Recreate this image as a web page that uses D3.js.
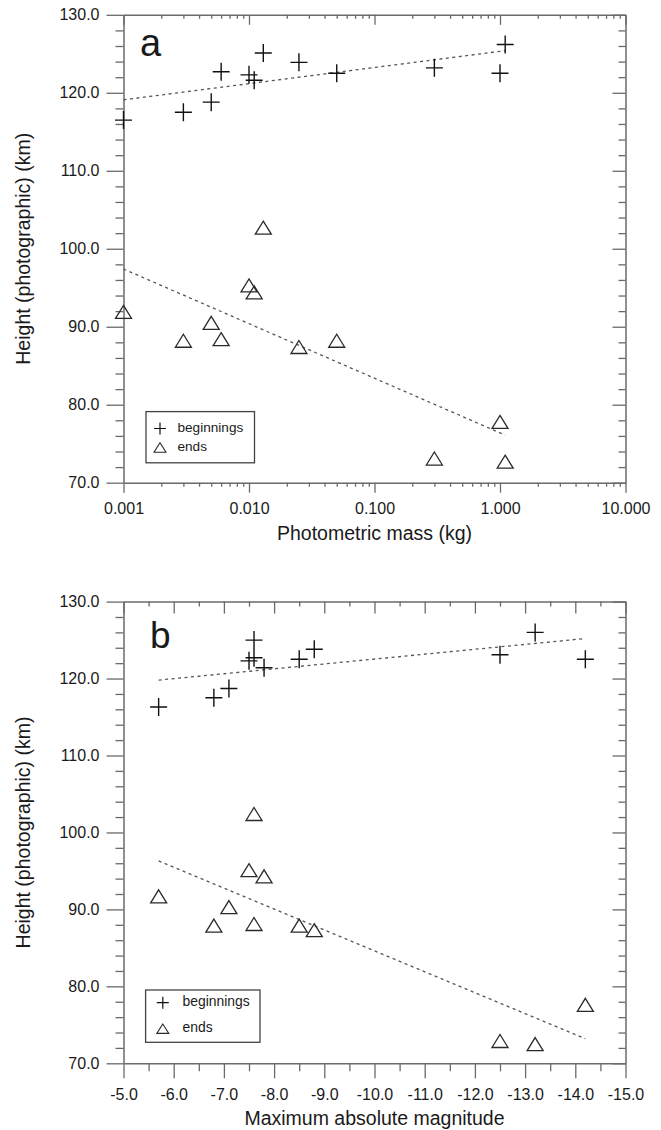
<!DOCTYPE html>
<html>
<head>
<meta charset="utf-8">
<script src="https://cdn.jsdelivr.net/npm/d3@7"></script>
<style>
  body { margin: 0; background: #fff; }
  svg { display: block; }
  text { font-family: "Liberation Sans", Arial, sans-serif; fill: #1a1a1a; }
</style>
</head>
<body>
<div id="chart"></div>
<script>
// panel a: height vs photometric mass
const massA = [0.001, 0.003, 0.005, 0.006, 0.010, 0.011, 0.013, 0.025, 0.050, 0.300, 1.000, 1.100];
const beginA = [116.5, 117.5, 118.8, 122.7, 122.3, 121.6, 125.1, 123.9, 122.5, 123.2, 122.5, 126.2];
const endA = [91.9, 88.2, 90.5, 88.4, 95.3, 94.4, 102.7, 87.4, 88.2, 73.1, 77.8, 72.7];
const trendMassA = [0.001, 1.1];
const trendBeginA = [119.1, 125.4];
const trendEndA = [97.4, 76.1];
const massTicks = [0.001, 0.01, 0.1, 1, 10];
const massTickLabels = ["0.001", "0.010", "0.100", "1.000", "10.000"];

// panel b: height vs maximum absolute magnitude
const magB = [-5.7, -6.8, -7.1, -7.5, -7.6, -7.6, -7.8, -8.5, -8.8, -12.5, -13.2, -14.2];
const beginB = [116.3, 117.5, 118.7, 122.3, 125.0, 122.7, 121.4, 122.5, 123.8, 123.1, 126.0, 122.5];
const endB = [91.7, 87.9, 90.3, 95.1, 102.4, 88.1, 94.3, 87.9, 87.3, 72.9, 72.5, 77.6];
const trendMagB = [-5.7, -14.2];
const trendBeginB = [119.8, 125.2];
const trendEndB = [96.3, 73.2];

const heightTicks = [70, 80, 90, 100, 110, 120, 130];
const legendLabels = ["beginnings", "ends"];

const W = 661, H = 1130;
const svg = d3.select("#chart").append("svg").attr("width", W).attr("height", H);

const axisColor = "#6a6a6a";
const plusPath = "M-8.5,0H8.5M0,-9V9";
const triPath = "M0,-6.5L8,6.5L-8,6.5Z";

function styleAxis(g) {
    g.selectAll("path.domain").attr("stroke", axisColor).attr("stroke-width", 1.5);
    g.selectAll(".tick line").attr("stroke", axisColor).attr("stroke-width", 1.3);
    g.selectAll(".tick text").attr("font-size", 16).attr("fill", "#1a1a1a")
        .style("font-family", "'Liberation Sans', Arial, sans-serif");
}

function drawPanel(cfg) {
    const { x, y, top, bottom, left, right } = cfg;
    const g = svg.append("g");

    // minor y ticks every 2 km
    const minorY = d3.range(72, 130, 2).filter(v => v % 10 !== 0);

    // left (outward) and right (inward)
    g.append("g").attr("transform", `translate(${left},0)`)
        .call(d3.axisLeft(y).tickValues(minorY).tickSize(8).tickFormat("").tickSizeOuter(0))
        .call(a => a.select(".domain").remove()).call(styleAxis);
    g.append("g").attr("transform", `translate(${left},0)`)
        .call(d3.axisLeft(y).tickValues(heightTicks).tickSize(17).tickPadding(7)
            .tickFormat(d3.format(".1f")).tickSizeOuter(0))
        .call(styleAxis);
    g.append("g").attr("transform", `translate(${right},0)`)
        .call(d3.axisLeft(y).tickValues(minorY).tickSize(7).tickFormat("").tickSizeOuter(0))
        .call(a => a.select(".domain").remove()).call(styleAxis);
    g.append("g").attr("transform", `translate(${right},0)`)
        .call(d3.axisLeft(y).tickValues(heightTicks).tickSize(13).tickFormat("").tickSizeOuter(0))
        .call(styleAxis);

    // bottom (outward) and top (inward)
    g.append("g").attr("transform", `translate(0,${bottom})`)
        .call(d3.axisBottom(x).tickValues(cfg.minorX).tickSize(cfg.bMinor).tickFormat("").tickSizeOuter(0))
        .call(a => a.select(".domain").remove()).call(styleAxis);
    g.append("g").attr("transform", `translate(0,${bottom})`)
        .call(d3.axisBottom(x).tickValues(cfg.majorX).tickSize(cfg.bMajor).tickPadding(10)
            .tickFormat(cfg.fmt).tickSizeOuter(0))
        .call(styleAxis);
    g.append("g").attr("transform", `translate(0,${top})`)
        .call(d3.axisBottom(x).tickValues(cfg.minorX).tickSize(cfg.tMinor).tickFormat("").tickSizeOuter(0))
        .call(a => a.select(".domain").remove()).call(styleAxis);
    g.append("g").attr("transform", `translate(0,${top})`)
        .call(d3.axisBottom(x).tickValues(cfg.majorX).tickSize(cfg.tMajor).tickFormat("").tickSizeOuter(0))
        .call(styleAxis);

    // trend lines
    const line = d3.line().x(d => x(d[0])).y(d => y(d[1]));
    [cfg.trendBegin, cfg.trendEnd].forEach(t => {
        g.append("path")
            .datum(cfg.trendX.map((v, i) => [v, t[i]]))
            .attr("d", line)
            .attr("fill", "none")
            .attr("stroke", "#555")
            .attr("stroke-width", 1.3)
            .attr("stroke-dasharray", "3,3.5");
    });

    // points
    g.append("g").selectAll("path")
        .data(cfg.xs.map((v, i) => [v, cfg.ends[i]]))
        .join("path")
        .attr("d", triPath)
        .attr("transform", d => `translate(${x(d[0])},${y(d[1])})`)
        .attr("fill", "none").attr("stroke", "#2a2a2a").attr("stroke-width", 1.3);
    g.append("g").selectAll("path")
        .data(cfg.xs.map((v, i) => [v, cfg.begins[i]]))
        .join("path")
        .attr("d", plusPath)
        .attr("transform", d => `translate(${x(d[0])},${y(d[1])})`)
        .attr("fill", "none").attr("stroke", "#111").attr("stroke-width", 1.4);

    // panel letter
    g.append("text").attr("x", cfg.letterX).attr("y", cfg.letterY)
        .attr("font-size", cfg.letterSize).text(cfg.letter);

    // legend
    const lg = cfg.legend;
    g.append("rect").attr("x", lg.x).attr("y", lg.y).attr("width", lg.w).attr("height", lg.h)
        .attr("fill", "#fff").attr("stroke", "#444").attr("stroke-width", 1.3);
    g.append("path").attr("d", "M-6,0H6M0,-6V6")
        .attr("transform", `translate(${lg.mx},${lg.y1})`)
        .attr("stroke", "#111").attr("stroke-width", 1.2);
    g.append("path").attr("d", "M0,-4.7L6,4.7L-6,4.7Z")
        .attr("transform", `translate(${lg.mx},${lg.y2})`)
        .attr("fill", "none").attr("stroke", "#2a2a2a").attr("stroke-width", 1.1);
    g.selectAll(".lgtext").data(legendLabels).join("text")
        .attr("x", lg.tx)
        .attr("y", (d, i) => (i === 0 ? lg.y1 : lg.y2) + 3)
        .attr("font-size", lg.fs)
        .text(d => d);

    // axis titles
    g.append("text")
        .attr("transform", `translate(29.5,${(top + bottom) / 2}) rotate(-90)`)
        .attr("text-anchor", "middle").attr("font-size", 19.5)
        .text("Height (photographic) (km)");
    g.append("text")
        .attr("x", (left + right) / 2).attr("y", cfg.xTitleY)
        .attr("text-anchor", "middle").attr("font-size", 19.5)
        .text(cfg.xTitle);
}

// panel a
const left = 123.5, right = 625.5;
const xA = d3.scaleLog().domain([0.001, 10]).range([left, right]);
const yA = d3.scaleLinear().domain([70, 130]).range([482.7, 14.8]);
const minorMass = [];
massTicks.slice(0, -1).forEach(m => d3.range(2, 10).forEach(k => minorMass.push(m * k)));

drawPanel({
    x: xA, y: yA, top: 14.8, bottom: 482.7, left, right,
    majorX: massTicks, minorX: minorMass,
    fmt: (d, i) => massTickLabels[i],
    bMajor: 10, bMinor: 4, tMajor: 10, tMinor: 4,
    xs: massA, begins: beginA, ends: endA,
    trendX: trendMassA, trendBegin: trendBeginA, trendEnd: trendEndA,
    letter: "a", letterX: 140, letterY: 56, letterSize: 38,
    legend: { x: 146, y: 411.6, w: 108.5, h: 51.2, mx: 160, y1: 428.5, y2: 447.5, tx: 177.5, fs: 13.6 },
    xTitle: "Photometric mass (kg)", xTitleY: 540
});

// panel b
const xB = d3.scaleLinear().domain([-5, -15]).range([left, right]);
const yB = d3.scaleLinear().domain([70, 130]).range([1063.3, 601.6]);
const magMajor = d3.range(-5, -15.5, -1);
const magMinor = d3.range(-5.5, -15, -1);

drawPanel({
    x: xB, y: yB, top: 601.6, bottom: 1063.3, left, right,
    majorX: magMajor, minorX: magMinor,
    fmt: d3.format(".1f"),
    bMajor: 15, bMinor: 8, tMajor: 12, tMinor: 5,
    xs: magB, begins: beginB, ends: endB,
    trendX: trendMagB, trendBegin: trendBeginB, trendEnd: trendEndB,
    letter: "b", letterX: 150, letterY: 648, letterSize: 37,
    legend: { x: 145.6, y: 990, w: 114.4, h: 52.3, mx: 162.8, y1: 1002.7, y2: 1028.7, tx: 182.5, fs: 13.9 },
    xTitle: "Maximum absolute magnitude", xTitleY: 1125
});

// d3.format gives a proper minus sign; reference uses a plain hyphen
svg.selectAll(".tick text").each(function () {
    this.textContent = this.textContent.replace("\u2212", "-");
});
</script>
</body>
</html>
